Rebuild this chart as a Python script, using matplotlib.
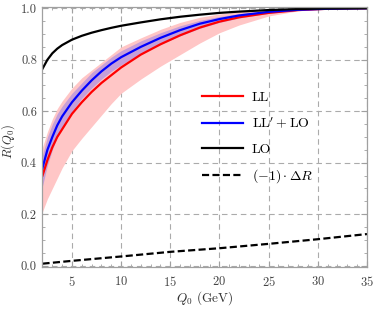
import matplotlib
matplotlib.use("Agg")
from matplotlib import pyplot as plt
from matplotlib.ticker import MultipleLocator, FormatStrFormatter

plt.rcParams['font.family'] = 'serif'
plt.rcParams['font.serif'] = ['cmr10']
plt.rcParams['mathtext.fontset'] = 'cm'
plt.rcParams['axes.formatter.use_mathtext'] = True

# Q0 values (GeV) where the curves were read
q0 = [2, 2.5, 3, 3.5, 4, 5, 6, 7, 8, 9, 10, 12, 14, 16, 18, 20, 22, 25, 28, 31, 35]

r_ll = [0.35, 0.41, 0.46, 0.50, 0.53, 0.59, 0.635, 0.675, 0.71, 0.74, 0.77,
        0.82, 0.86, 0.895, 0.925, 0.948, 0.965, 0.982, 0.993, 0.998, 1.0]
r_ll_lo = [0.21, 0.26, 0.30, 0.34, 0.38, 0.447, 0.495, 0.54, 0.585, 0.63, 0.67,
           0.725, 0.775, 0.82, 0.865, 0.905, 0.935, 0.97, 0.99, 0.998, 1.0]
r_ll_hi = [0.46, 0.52, 0.57, 0.61, 0.64, 0.69, 0.73, 0.76, 0.79, 0.82, 0.85,
           0.885, 0.918, 0.945, 0.965, 0.978, 0.987, 0.995, 0.999, 1.0, 1.0]

r_nll = [0.38, 0.45, 0.50, 0.545, 0.58, 0.635, 0.68, 0.72, 0.755, 0.785, 0.81,
         0.85, 0.885, 0.915, 0.94, 0.958, 0.972, 0.986, 0.994, 0.998, 1.0]
r_nll_lo = [0.31, 0.39, 0.45, 0.50, 0.54, 0.60, 0.65, 0.69, 0.725, 0.755, 0.78,
            0.825, 0.86, 0.893, 0.922, 0.945, 0.962, 0.98, 0.992, 0.998, 1.0]
r_nll_hi = [0.43, 0.50, 0.55, 0.59, 0.62, 0.67, 0.71, 0.75, 0.78, 0.81, 0.835,
            0.873, 0.905, 0.932, 0.953, 0.968, 0.979, 0.99, 0.996, 0.999, 1.0]

r_lo = [0.765, 0.80, 0.825, 0.843, 0.857, 0.878, 0.893, 0.905, 0.915, 0.924, 0.932,
        0.945, 0.957, 0.967, 0.975, 0.982, 0.987, 0.993, 0.997, 0.999, 1.0]

q0_dr = [2, 5, 10, 15, 20, 25, 30, 35]
dr = [0.008, 0.019, 0.036, 0.054, 0.068, 0.085, 0.103, 0.123]

fig = plt.figure(figsize=(3.74, 3.12), dpi=100)
ax = fig.add_axes([0.1136, 0.1458, 0.8676, 0.8327])

ax.fill_between(q0, r_ll_lo, r_ll_hi, color='#ffc6c6', lw=0)
ax.fill_between(q0, r_nll_lo, r_nll_hi, color='#c69fd8', lw=0)

ax.plot(q0, r_ll, color='#ff0000', lw=1.6, label='LL')
ax.plot(q0, r_nll, color='#0000ff', lw=1.6, label=r"$\mathrm{LL}' + \mathrm{LO}$")
ax.plot(q0, r_lo, color='black', lw=1.6, label='LO')
ax.plot(q0_dr, dr, color='black', lw=1.6, dashes=(3.2, 1.5), label=r'$(-1)\cdot\Delta R$')

ax.set_xlim(2, 35)
ax.set_ylim(-0.003, 1.006)

ax.xaxis.set_major_locator(MultipleLocator(5))
ax.xaxis.set_minor_locator(MultipleLocator(1))
ax.yaxis.set_major_locator(MultipleLocator(0.2))
ax.yaxis.set_minor_locator(MultipleLocator(0.05))
ax.yaxis.set_major_formatter(FormatStrFormatter('%.1f'))

ax.grid(True, which='major', color='#ababab', lw=0.8, ls=(0, (5, 3.5)))
ax.set_axisbelow(True)

for s in ax.spines.values():
    s.set_color('#a0a0a0')
    s.set_linewidth(0.9)
ax.tick_params(which='both', direction='in', top=True, right=True,
               color='#a0a0a0', labelcolor='#444444', labelsize=9)
ax.tick_params(which='major', length=4)
ax.tick_params(which='minor', length=2)
ax.tick_params(axis='x', pad=6)
ax.tick_params(axis='y', pad=4)

ax.set_xlabel(r'$Q_0$ (GeV)', fontsize=9.5, color='#333333')
ax.set_ylabel(r'$R(Q_0)$', fontsize=9, color='#333333')
ax.xaxis.set_label_coords(0.5, -0.088)
ax.yaxis.set_label_coords(-0.078, 0.483)

ax.legend(loc='upper left', bbox_to_anchor=(0.452, 0.724), frameon=False,
          fontsize=10, handlelength=3.0, handletextpad=0.6, labelspacing=0.86)

fig.savefig('out.png', dpi=100)
